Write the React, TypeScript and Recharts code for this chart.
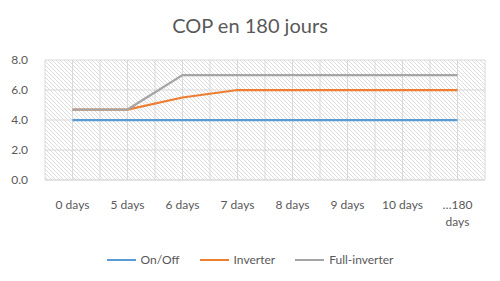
import { CartesianGrid, Line, LineChart, XAxis, YAxis } from "recharts"

const days = ["0 days", "5 days", "6 days", "7 days", "8 days", "9 days", "10 days", "…180 days"]
const onOff = [4.0, 4.0, 4.0, 4.0, 4.0, 4.0, 4.0, 4.0]
const inverter = [4.7, 4.7, 5.5, 6.0, 6.0, 6.0, 6.0, 6.0]
const fullInverter = [4.7, 4.7, 7.0, 7.0, 7.0, 7.0, 7.0, 7.0]
const yTicks = [0, 2, 4, 6, 8]

const series = [
    { key: "onOff", name: "On/Off", color: "#5B9BD5" },
    { key: "inverter", name: "Inverter", color: "#ED7D31" },
    { key: "fullInverter", name: "Full-inverter", color: "#A5A5A5" },
]

// numeric position per category so points sit in the middle of each slot
const data = days.map((d, i) => ({
    idx: i,
    name: d,
    onOff: onOff[i],
    inverter: inverter[i],
    fullInverter: fullInverter[i],
}))

const font = "Lato, 'Open Sans', sans-serif"
const textColor = "#595959"

const DayTick = (props: any) => {
    const { x, y, payload } = props
    const label: string = days[payload.value] ?? ""
    // long labels break on the last space like Excel does
    const lines = label.length > 8 ? [label.slice(0, label.lastIndexOf(" ")), label.slice(label.lastIndexOf(" ") + 1)] : [label]
    return (
        <text x={x} y={y + 29} textAnchor="middle" fill={textColor} fontSize={12} fontFamily={font}>
            {lines.map((l, i) => (
                <tspan key={i} x={x} dy={i === 0 ? 0 : 17}>
                    {l}
                </tspan>
            ))}
        </text>
    )
}

export default function App() {
    return (
        <div style={{ position: "absolute", left: 0, top: 0, width: 500, height: 281, background: "#fff", fontFamily: font }}>
            <svg width={0} height={0} style={{ position: "absolute" }}>
                <defs>
                    <pattern id="hatch" width={4} height={4} patternUnits="userSpaceOnUse">
                        <path d="M-1,-1 L5,5 M-1,3 L1,5 M3,-1 L5,1" stroke="#dddddd" strokeWidth={1} />
                    </pattern>
                </defs>
            </svg>
            <div style={{ position: "absolute", top: 13, left: 0, width: 500, textAlign: "center", fontSize: 20, lineHeight: "24px", color: textColor }}>
                COP en 180 jours
            </div>
            <div style={{ position: "absolute", left: 0, top: 0 }}>
                <LineChart width={500} height={281} data={data} margin={{ top: 60, right: 15, left: 0, bottom: 0 }}>
                    <CartesianGrid
                        stroke="#d9d9d9"
                        fill="url(#hatch)"
                        fillOpacity={1}
                        verticalCoordinatesGenerator={({ offset }: any) =>
                            Array.from({ length: days.length * 2 + 1 }, (_, i) => offset.left + (i * offset.width) / (days.length * 2))
                        }
                    />
                    <XAxis
                        dataKey="idx"
                        type="number"
                        domain={[-0.5, days.length - 0.5]}
                        ticks={days.map((_, i) => i)}
                        height={101}
                        axisLine={{ stroke: "#d9d9d9" }}
                        tickLine={false}
                        tickSize={0}
                        tickMargin={0}
                        interval={0}
                        tick={<DayTick />}
                    />
                    <YAxis
                        width={45}
                        domain={[0, 8]}
                        ticks={yTicks}
                        tickFormatter={(v: number) => v.toFixed(1)}
                        axisLine={false}
                        tickLine={false}
                        tickSize={0}
                        tickMargin={17}
                        tick={{ fill: textColor, fontSize: 12, fontFamily: font }}
                    />
                    {series.map((s) => (
                        <Line
                            key={s.key}
                            type="linear"
                            dataKey={s.key}
                            name={s.name}
                            stroke={s.color}
                            strokeWidth={2.25}
                            dot={false}
                            isAnimationActive={false}
                        />
                    ))}
                </LineChart>
            </div>
            <div style={{ position: "absolute", top: 251, left: 0, width: 500, display: "flex", justifyContent: "center", gap: 20, fontSize: 12, color: textColor, lineHeight: "18px" }}>
                {series.map((s) => (
                    <div key={s.key} style={{ display: "flex", alignItems: "center", gap: 5 }}>
                        <div style={{ width: 29, height: 2, background: s.color }} />
                        <span>{s.name}</span>
                    </div>
                ))}
            </div>
        </div>
    )
}
